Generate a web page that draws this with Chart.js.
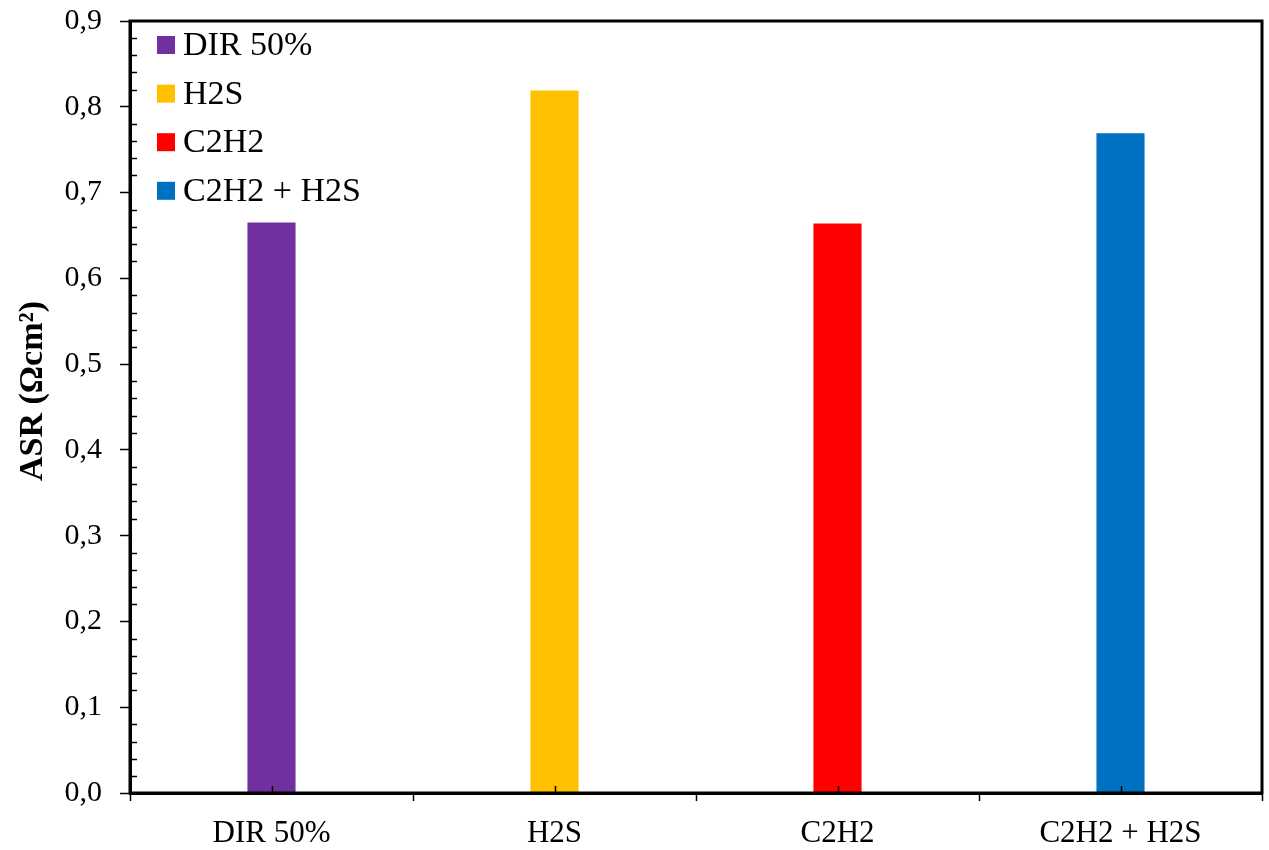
<!DOCTYPE html>
<html>
<head>
<meta charset="utf-8">
<script src="https://cdn.jsdelivr.net/npm/chart.js@4/dist/chart.umd.min.js"></script>
<style>
  html, body { margin: 0; padding: 0; background: #fff; }
  #wrap { width: 1269px; height: 850px; }
</style>
</head>
<body>
<div id="wrap"><canvas id="barChart" width="1269" height="850"></canvas></div>
<script>
// data
var categories = ['DIR 50%', 'H2S', 'C2H2', 'C2H2 + H2S'];
var asrValues = [0.665, 0.819, 0.664, 0.769];
var barColors = ['#7030A0', '#FFC000', '#FF0000', '#0070C0'];
var yTicks = [0, 0.1, 0.2, 0.3, 0.4, 0.5, 0.6, 0.7, 0.8, 0.9];
var yTitle = 'ASR (Ωcm²)';

var serif = "'Liberation Serif', 'Times New Roman', serif";

// frame, minor ticks, axis title and the in-plot legend
var framePlugin = {
  id: 'frame',
  afterDraw: function(chart) {
    var c = chart.ctx, a = chart.chartArea;
    var y = chart.scales.y, x = chart.scales.x;
    c.save();
    c.strokeStyle = '#000';
    // minor ticks on y, inside
    c.lineWidth = 1.5;
    for (var i = 0; i < yTicks.length - 1; i++) {
      for (var k = 1; k < 5; k++) {
        var py = Math.round(y.getPixelForValue(yTicks[i] + k * 0.02)) + 0.5;
        c.beginPath(); c.moveTo(a.left, py); c.lineTo(a.left + 7, py); c.stroke();
      }
    }
    // small ticks at the category centres, inside
    for (var j = 0; j < categories.length; j++) {
      var px = Math.round(x.getPixelForValue(j)) + 0.5;
      c.beginPath(); c.moveTo(px, a.bottom); c.lineTo(px, a.bottom - 7); c.stroke();
    }
    // box
    c.lineWidth = 3;
    c.strokeRect(a.left, a.top, a.right - a.left, a.bottom - a.top);
    // y title
    c.save();
    c.translate(42, 391);
    c.rotate(-Math.PI / 2);
    c.font = 'bold 34px ' + serif;
    c.fillStyle = '#000';
    c.textAlign = 'center';
    c.textBaseline = 'alphabetic';
    c.fillText(yTitle, 0, 0);
    c.restore();
    // legend
    c.font = '34px ' + serif;
    c.textBaseline = 'middle';
    c.textAlign = 'left';
    for (var n = 0; n < categories.length; n++) {
      var cy = a.top + 24 + n * 48.6;
      c.fillStyle = barColors[n];
      c.fillRect(a.left + 27, cy - 9, 18, 18);
      c.fillStyle = '#000';
      c.fillText(categories[n], a.left + 53, cy + 1);
    }
    c.restore();
  }
};

var ctx = document.getElementById('barChart').getContext('2d');
var barChart = new Chart(ctx, {
  type: 'bar',
  data: {
    labels: categories,
    datasets: [{
      data: asrValues,
      backgroundColor: barColors,
      barPercentage: 0.17,
      categoryPercentage: 1.0
    }]
  },
  options: {
    responsive: false,
    animation: false,
    layout: { padding: { left: 0, right: 7, top: 21, bottom: 0 } },
    plugins: {
      legend: { display: false },
      tooltip: { enabled: false }
    },
    scales: {
      x: {
        offset: true,
        grid: {
          offset: true,
          drawOnChartArea: false,
          drawTicks: true,
          tickLength: 8,
          tickWidth: 1.5,
          tickColor: '#000'
        },
        border: { color: '#000', width: 3 },
        ticks: {
          color: '#000',
          padding: 14,
          font: { family: serif, size: 31 }
        },
        afterFit: function(s) { s.height = 57; s.paddingLeft = 0; s.paddingRight = 0; }
      },
      y: {
        min: 0,
        max: 0.9,
        grid: {
          drawOnChartArea: false,
          drawTicks: true,
          tickLength: 10,
          tickWidth: 1.5,
          tickColor: '#000'
        },
        border: { color: '#000', width: 3 },
        ticks: {
          stepSize: 0.1,
          color: '#000',
          padding: 18,
          font: { family: serif, size: 30 },
          callback: function(v) { return v.toFixed(1).replace('.', ','); }
        },
        afterFit: function(s) { s.width = 130; s.paddingTop = 0; s.paddingBottom = 0; }
      }
    }
  },
  plugins: [framePlugin]
});
</script>
</body>
</html>
